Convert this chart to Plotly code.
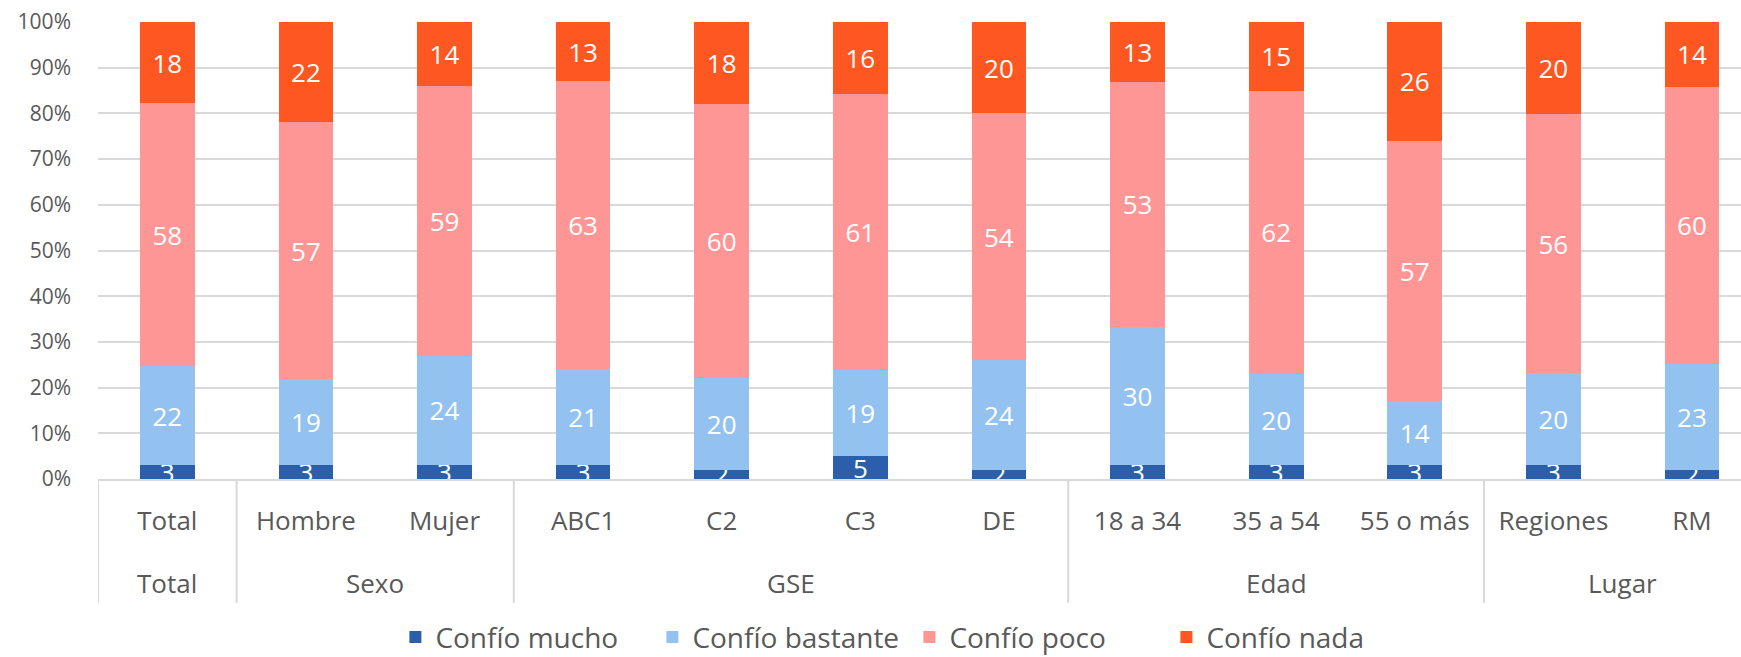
import plotly.graph_objects as go

groups = ["Total", "Sexo", "Sexo", "GSE", "GSE", "GSE", "GSE",
          "Edad", "Edad", "Edad", "Lugar", "Lugar"]
categories = ["Total", "Hombre", "Mujer", "ABC1", "C2", "C3", "DE",
              "18 a 34", "35 a 54", "55 o más", "Regiones", "RM"]

confio_mucho = [3, 3, 3, 3, 2, 5, 2, 3, 3, 3, 3, 2]
confio_bastante = [22, 19, 24, 21, 20, 19, 24, 30, 20, 14, 20, 23]
confio_poco = [58, 57, 59, 63, 60, 61, 54, 53, 62, 57, 56, 60]
confio_nada = [18, 22, 14, 13, 18, 16, 20, 13, 15, 26, 20, 14]

series = [
    ("Confío mucho", confio_mucho, "#2B5FAC"),
    ("Confío bastante", confio_bastante, "#93C2F0"),
    ("Confío poco", confio_poco, "#FF9696"),
    ("Confío nada", confio_nada, "#FF5722"),
]

FONT = "Open Sans"
GREY = "#595959"
LINE = "#D9D9D9"

fig = go.Figure()
for name, vals, color in series:
    fig.add_trace(go.Bar(
        x=categories,
        y=vals,
        name=name,
        marker=dict(color=color, line=dict(width=0)),
        text=[str(v) for v in vals],
        textposition="inside",
        insidetextanchor="middle",
        constraintext="none",
        textangle=0,
        textfont=dict(family=FONT, size=26, color="white"),
        cliponaxis=True,
        hoverinfo="skip",
    ))

# group spans (computed from the groups list)
spans = []
start = 0
for i in range(1, len(groups) + 1):
    if i == len(groups) or groups[i] != groups[start]:
        spans.append((groups[start], start, i - 1))
        start = i

for gname, a, b in spans:
    fig.add_annotation(
        x=(a + b) / 2, xref="x", y=-0.2276, yref="paper",
        text=gname, showarrow=False, yanchor="middle", xanchor="center",
        font=dict(family=FONT, size=26, color=GREY),
    )
    if a - 0.5 <= 11.3:
        fig.add_shape(type="line", xref="x", yref="paper",
                      x0=a - 0.5, x1=a - 0.5, y0=0, y1=-0.271,
                      line=dict(color=LINE, width=2), layer="below")

fig.update_layout(
    width=1741, height=657,
    barmode="stack", barnorm="percent",
    bargap=0.605,
    plot_bgcolor="white", paper_bgcolor="white",
    margin=dict(l=98, r=0, t=22, b=178, autoexpand=False),
    font=dict(family=FONT, color=GREY),
    showlegend=True,
    legend=dict(
        orientation="h", x=0.181, xanchor="left",
        yref="container", y=0.03, yanchor="middle",
        font=dict(family=FONT, size=28, color=GREY),
        traceorder="normal",
        entrywidth=212, entrywidthmode="pixels",
    ),
)

fig.update_yaxes(
    range=[0, 100], dtick=10, ticksuffix="%",
    showgrid=True, gridcolor=LINE, gridwidth=2,
    zeroline=False, showline=False, automargin=False,
    tickfont=dict(family=FONT, size=21, color=GREY),
    ticks="", ticklabelstandoff=26,
)

fig.update_xaxes(
    type="category",
    range=[-0.5, 11.354],
    showline=True, linecolor=LINE, linewidth=2,
    showgrid=False, automargin=False,
    ticks="outside", ticklen=18, tickcolor="rgba(0,0,0,0)",
    tickfont=dict(family=FONT, size=26, color=GREY),
)

fig.write_html(
    "out.html",
    config={"displayModeBar": False},
    post_script="document.body.style.margin='0';document.body.style.overflow='hidden';",
)
